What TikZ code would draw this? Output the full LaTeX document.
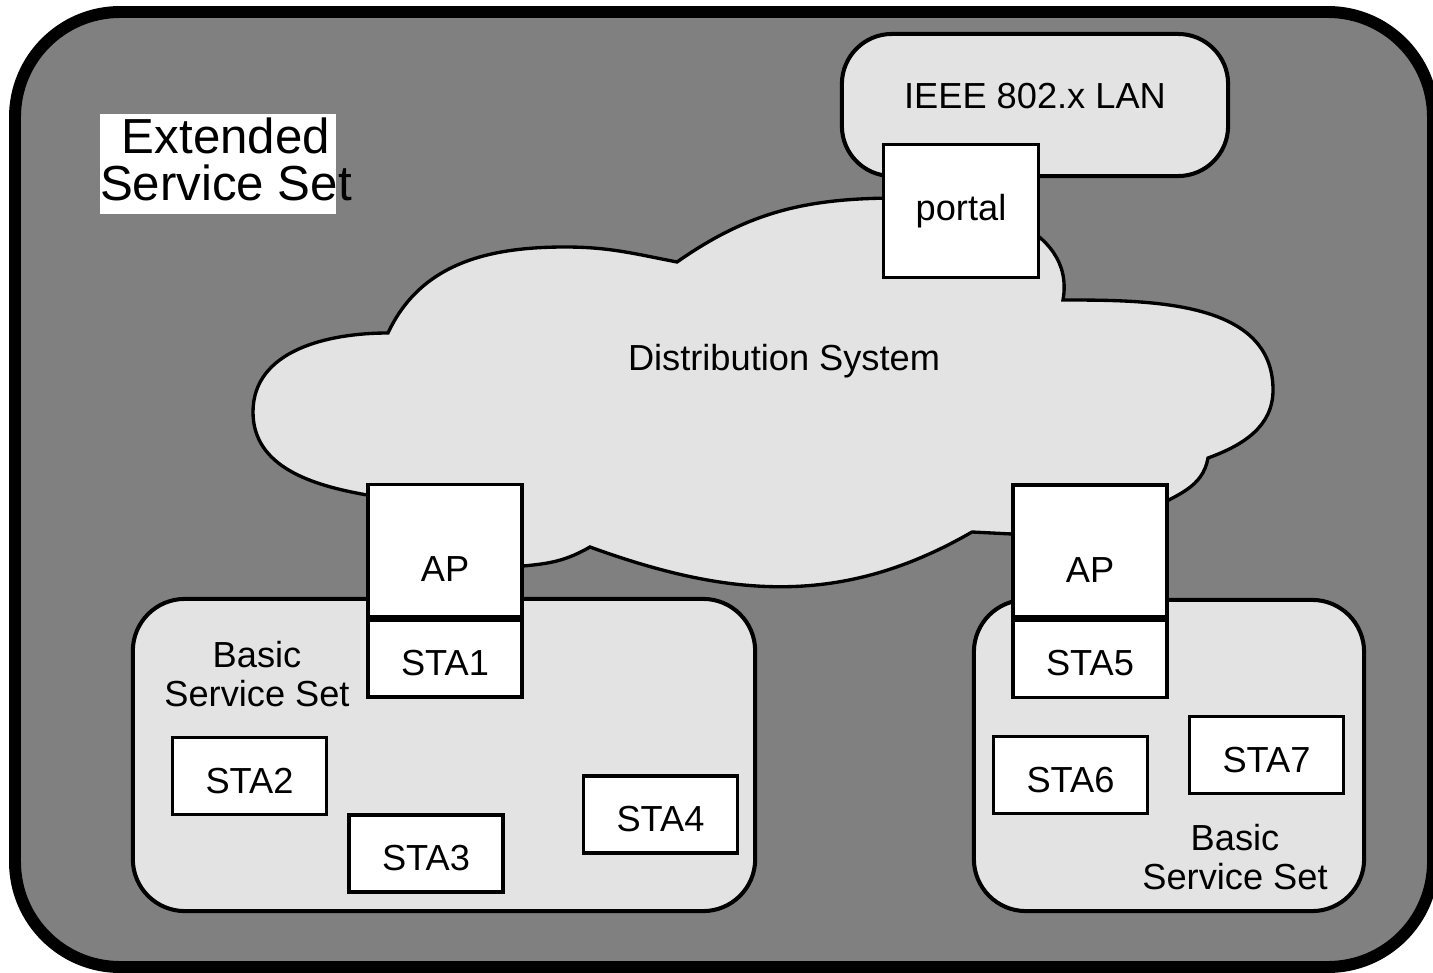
\documentclass[tikz,border=0pt]{standalone}
\usepackage{fontspec}
\setsansfont{Liberation Sans}
\usepackage{tikz}
\usetikzlibrary{positioning}
\usepackage{xcolor}
\definecolor{essgray}{gray}{0.5}
\definecolor{bssgray}{gray}{0.89}

\begin{document}
\begin{tikzpicture}[x=0.01cm,y=0.01cm]
\sffamily
\fontsize{10.3}{11.2}\selectfont
\tikzstyle{basenode}=[draw, line width=0.95pt, align=center, inner sep=0pt];
\tikzstyle{sta}=[basenode, fill=white, minimum width=1.54cm, minimum height=0.77cm, text height=0.36cm, text depth=0.02cm];
\tikzstyle{ap}=[basenode, fill=white, minimum width=1.54cm, text height=0.97cm, text depth=0.35cm];
\tikzstyle{portalbox}=[basenode, fill=white, minimum width=1.55cm, minimum height=1.33cm];
\tikzstyle{bss}=[draw, line width=1.15pt, fill=bssgray, rounded corners=0.52cm];
\tikzstyle{bsslabel}=[align=center, inner sep=0pt, font=\fontsize{10.3}{11}\selectfont];
\tikzstyle{cloudline}=[draw, line width=0.95pt, fill=bssgray];

\useasboundingbox (0,0) rectangle (1433,-973);

% extended service set
\draw[line width=3.4pt, fill=essgray, rounded corners=1.05cm] (15,-12) rectangle (1433,-967);
\fill[white] (100,-114) rectangle (336,-214);
\node[align=center, inner sep=0pt, font=\fontsize{14}{13.4}\selectfont] (esslabel) at (226,-159) {Extended\\Service Set};

% wired side
\node[bss, rounded corners=0.5cm, inner sep=0pt, minimum width=3.86cm, text height=0.74cm, text depth=0.68cm] (lan) at (1035,-105) {IEEE 802.x LAN};

\draw[cloudline] (388,-333) to[out=65,in=180] (565,-247) to[out=0,in=169] (677,-262)
  to[out=35,in=180] (900,-198) to[out=0,in=80] (1063,-300)
  to[out=0,in=90] (1273,-390) to[out=-90,in=20] (1208,-458)
  to[out=-100,in=30] (1150,-510) -- (1012,-534) -- (972,-532)
  to[out=-150,in=-20] (590,-547)
  to[out=-150,in=5] (523,-566) -- (367,-495)
  to[out=170,in=-90] (253,-412) to[out=90,in=180] (388,-333) -- cycle;
\node (ds) at (784,-361) {Distribution System};

\node[portalbox] (portal) at (961,-211) {portal};

% basic service sets
\node[bss, minimum width=6.22cm, minimum height=3.12cm] (bssA) at (444,-755) {};
\node[bss, minimum width=3.90cm, minimum height=3.11cm] (bssB) at (1169,-755.5) {};

\node[ap] (apA) at (445,-550.5) {AP};
\node[sta, below=0pt of apA] (sta1) {STA1};
\node[ap] (apB) at (1090,-551) {AP};
\node[sta, below=0pt of apB] (sta5) {STA5};

\node[sta] (sta2) at (249.5,-776) {STA2};
\node[sta] (sta3) at (426,-853.5) {STA3};
\node[sta] (sta4) at (660.5,-814.5) {STA4};
\node[sta] (sta6) at (1070.5,-775) {STA6};
\node[sta] (sta7) at (1266.5,-755) {STA7};

\node[bsslabel] (bssAlabel) at (257,-674) {Basic\\Service Set};
\node[bsslabel] (bssBlabel) at (1235,-857) {Basic\\Service Set};

\end{tikzpicture}
\end{document}
